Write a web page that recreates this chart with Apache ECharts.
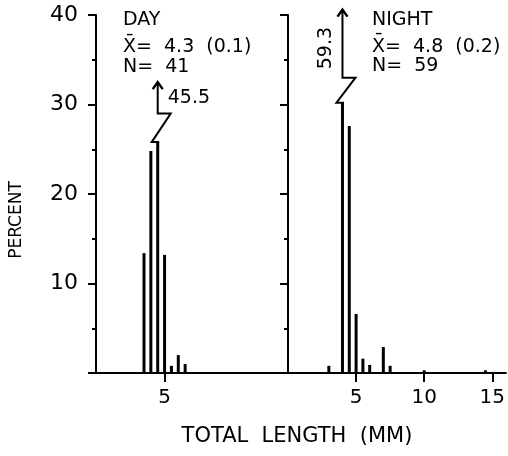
<!DOCTYPE html>
<html>
<head>
<meta charset="utf-8">
<script src="https://cdn.jsdelivr.net/npm/echarts@6/dist/echarts.min.js"></script>
<style>
  html, body { margin: 0; padding: 0; background: #fff; }
  #chart { width: 508px; height: 456px; }
</style>
</head>
<body>
<div id="chart"></div>
<script>
var FONT = '"DejaVu Sans", sans-serif';

// day sample: length class (mm) and percent
var dayLength = [3.5, 4.0, 4.5, 5.0, 5.5, 6.0, 6.5];
var dayPercent = [13.4, 24.8, 45.5, 13.2, 0.8, 2.0, 1.0];

// night sample
var nightLength = [3.0, 4.0, 4.5, 5.0, 5.5, 6.0, 7.0, 7.5, 10.0, 14.5];
var nightPercent = [0.8, 59.3, 27.6, 6.6, 1.6, 0.9, 2.9, 0.8, 0.3, 0.3];

var yTicks = [0, 10, 20, 30, 40];
var yLabels = ['', '10', '20', '30', '40'];
var dayXTicks = [5];
var nightXTicks = [5, 10, 15];

function pairs(xs, ys) {
    var out = [];
    for (var i = 0; i < xs.length; i++) out.push([xs[i], ys[i]]);
    return out;
}

// bars drawn as thin rects; values over the break get a zigzag + arrow
function barRenderer(brk) {
    return function (params, api) {
        var x = api.value(0), v = api.value(1);
        var base = api.coord([x, 0]);
        var bx = base[0], w = 3;
        var line = { stroke: '#000', lineWidth: 2, fill: null };
        if (v <= brk.cap) {
            var top = api.coord([x, v])[1];
            return { type: 'rect', shape: { x: bx - w / 2, y: top, width: w, height: base[1] - top }, style: { fill: '#000' } };
        }
        var low = api.coord([x, brk.low])[1];
        var high = api.coord([x, brk.high])[1];
        var tip = api.coord([x, brk.tip])[1];
        var lab = api.coord([x, brk.labelAt])[1];
        var label = {
            type: 'text',
            x: bx + brk.labelDx, y: lab,
            rotation: brk.rotate ? Math.PI / 2 : 0,
            style: { text: String(v), font: '19px ' + FONT, fill: '#000',
                     align: brk.rotate ? 'center' : 'left', verticalAlign: 'middle',
                     textAlign: brk.rotate ? 'center' : 'left', textVerticalAlign: 'middle' }
        };
        return {
            type: 'group',
            children: [
                { type: 'rect', shape: { x: bx - w / 2, y: low, width: w, height: base[1] - low }, style: { fill: '#000' } },
                { type: 'polyline', shape: { points: [[bx + 1.5, low], [bx - 6, low], [bx + 13, high], [bx, high], [bx, tip + 1]] }, style: line },
                { type: 'polyline', shape: { points: [[bx - 5, tip + 7], [bx, tip], [bx + 5, tip + 7]] }, style: { stroke: '#000', lineWidth: 2.5, fill: null } },
                label
            ]
        };
    };
}

function xAxisOf(idx, max, ticks) {
    return {
        type: 'value', gridIndex: idx, min: 0, max: max,
        axisLine: { lineStyle: { color: '#000', width: 2 } },
        axisTick: { customValues: ticks, length: 9, lineStyle: { color: '#000', width: 2 } },
        axisLabel: { customValues: ticks, margin: 15, color: '#000', fontFamily: FONT, fontSize: 20 },
        splitLine: { show: false }
    };
}

function yAxisOf(idx, labels) {
    return {
        type: 'value', gridIndex: idx, min: yTicks[0], max: yTicks[yTicks.length - 1], interval: 10,
        axisLine: { show: true, lineStyle: { color: '#000', width: 2 } },
        axisTick: { show: true, length: 8, lineStyle: { color: '#000', width: 2 } },
        minorTick: { show: true, splitNumber: 2, length: 4, lineStyle: { color: '#000', width: 2 } },
        axisLabel: {
            show: labels, margin: 18, color: '#000', fontFamily: FONT, fontSize: 22,
            formatter: function (val) { return yLabels[yTicks.indexOf(val)] || ''; }
        },
        splitLine: { show: false },
        minorSplitLine: { show: false }
    };
}

function txt(x, y, s, size, align, rot) {
    return { type: 'text', x: x, y: y, rotation: rot || 0,
             style: { text: s, font: size + 'px ' + FONT, fill: '#000',
                      align: align || 'left', verticalAlign: 'middle',
                      textAlign: align || 'left', textVerticalAlign: 'middle' } };
}

var chart = echarts.init(document.getElementById('chart'), null, { renderer: 'canvas' });
chart.setOption({
    animation: false,
    backgroundColor: '#fff',
    grid: [
        { left: 96, top: 15, width: 192, height: 358 },
        { left: 288, top: 15, width: 220, height: 358 }
    ],
    xAxis: [xAxisOf(0, 14, dayXTicks), xAxisOf(1, 16, nightXTicks)],
    yAxis: [yAxisOf(0, true), yAxisOf(1, false)],
    series: [
        {
            type: 'custom', xAxisIndex: 0, yAxisIndex: 0, clip: false,
            renderItem: barRenderer({ cap: 40, low: 25.8, high: 29.0, tip: 32.5, labelAt: 30.7, labelDx: 10, rotate: false }),
            data: pairs(dayLength, dayPercent)
        },
        {
            type: 'custom', xAxisIndex: 1, yAxisIndex: 1, clip: false,
            renderItem: barRenderer({ cap: 40, low: 30.2, high: 33.0, tip: 40.6, labelAt: 36.3, labelDx: -16, rotate: true }),
            data: pairs(nightLength, nightPercent)
        }
    ],
    graphic: [
        txt(123, 20, 'DAY', 19),
        txt(123, 47.5, 'X\u0304=  4.3  (0.1)', 19),
        txt(123, 67, 'N=  41', 19),
        txt(372, 20, 'NIGHT', 19),
        txt(372, 47, 'X\u0304=  4.8  (0.2)', 19),
        txt(372, 66, 'N=  59', 19),
        txt(17, 220, 'PERCENT', 17, 'center', Math.PI / 2),
        txt(297, 437, 'TOTAL  LENGTH  (MM)', 21, 'center')
    ]
});
</script>
</body>
</html>
